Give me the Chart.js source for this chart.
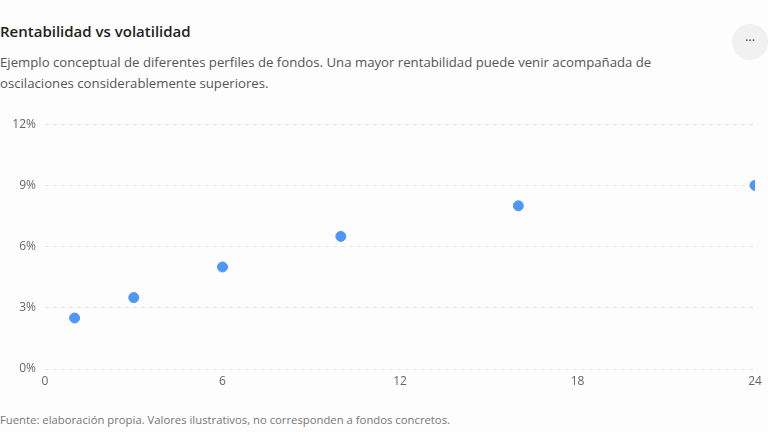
<!DOCTYPE html>
<html lang="es">
<head>
  <meta charset="UTF-8" />
  <title>Rentabilidad vs volatilidad</title>
  <script src="https://cdn.jsdelivr.net/npm/chart.js"></script>
  <style>
    html, body { margin: 0; padding: 0; background: #fdfdfd; width: 768px; height: 432px; overflow: hidden; font-family: "Open Sans", "Noto Sans", sans-serif; }
    .titulo { position: absolute; left: 0; top: 21px; font-size: 15px; font-weight: 600; color: #222; }
    .subtitulo { position: absolute; left: 0; top: 52px; width: 700px; font-size: 13.2px; line-height: 21px; color: #555; }
    .menu { position: absolute; left: 732px; top: 24px; width: 36px; height: 36px; border-radius: 50%; background: #f1f1f1; color: #444; font-size: 13px; text-align: center; line-height: 32px; }
    .fuente { position: absolute; left: 0; top: 412px; font-size: 11.3px; color: #777; }
    #wrap { position: absolute; left: 0; top: 108px; width: 768px; height: 284px; }
  </style>
</head>
<body>
  <div class="titulo">Rentabilidad vs volatilidad</div>
  <div class="subtitulo">Ejemplo conceptual de diferentes perfiles de fondos. Una mayor rentabilidad puede venir acompañada de oscilaciones considerablemente superiores.</div>
  <div class="menu">···</div>
  <div id="wrap"><canvas id="grafico"></canvas></div>
  <div class="fuente">Fuente: elaboración propia. Valores ilustrativos, no corresponden a fondos concretos.</div>

  <script>
    // volatilidad (x) y rentabilidad (y, %)
    const volatilidad = [1, 3, 6, 10, 16, 24];
    const rentabilidad = [2.5, 3.5, 5, 6.5, 8, 9];
    const ticksX = [0, 6, 12, 18, 24];
    const ticksY = [0, 3, 6, 9, 12];

    const puntos = volatilidad.map((v, i) => ({ x: v, y: rentabilidad[i] }));
    const fuente = { family: "'Open Sans', 'Noto Sans', sans-serif", size: 12 };

    new Chart(document.getElementById("grafico"), {
      type: "scatter",
      data: {
        datasets: [{
          data: puntos,
          backgroundColor: "#4f97f7",
          borderColor: "#4f97f7",
          pointRadius: 5,
          pointHoverRadius: 6
        }]
      },
      options: {
        responsive: true,
        maintainAspectRatio: false,
        animation: false,
        layout: { padding: { top: 12, right: 13, left: 0, bottom: 0 } },
        plugins: { legend: { display: false }, tooltip: { enabled: false } },
        scales: {
          x: {
            type: "linear",
            min: 0, max: 24,
            afterBuildTicks: axis => { axis.ticks = ticksX.map(v => ({ value: v })); },
            afterFit: axis => { axis.height = 23; axis.paddingRight = 0; },
            grid: { display: false, drawTicks: false },
            border: { display: false },
            ticks: { color: "#666", font: fuente, padding: 5, maxRotation: 0 }
          },
          y: {
            min: 0, max: 12,
            afterBuildTicks: axis => { axis.ticks = ticksY.map(v => ({ value: v })); },
            afterFit: axis => { axis.width = 45; },
            grid: { color: "#e4e4e4", drawTicks: false },
            border: { display: false, dash: [4, 4] },
            ticks: { color: "#666", font: fuente, padding: 9, callback: v => v + "%" }
          }
        }
      }
    });
  </script>
</body>
</html>
